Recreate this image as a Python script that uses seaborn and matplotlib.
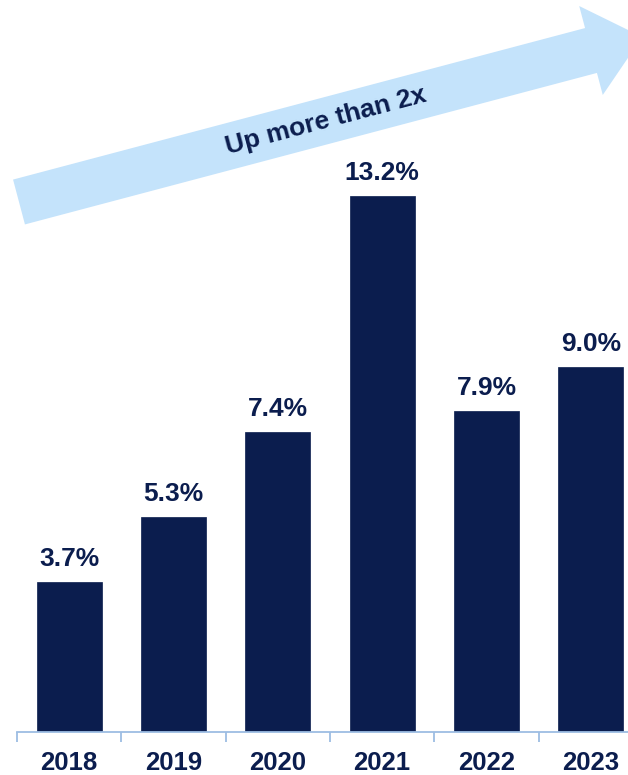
import matplotlib
matplotlib.use("Agg")
import matplotlib.pyplot as plt
from matplotlib.patches import Polygon
from matplotlib import font_manager
import numpy as np
import pandas as pd
import seaborn as sns

years = ["2018", "2019", "2020", "2021", "2022", "2023"]
values = [3.7, 5.3, 7.4, 13.2, 7.9, 9.0]
value_labels = ["3.7%", "5.3%", "7.4%", "13.2%", "7.9%", "9.0%"]
arrow_text = "Up more than 2x"

NAVY = "#0b1d4e"
ARROW = "#c4e3fb"
AXIS = "#9dbde3"

sns.set_theme(style="white")
plt.rcParams["font.family"] = ["Liberation Sans", "DejaVu Sans"]

names = {f.name for f in font_manager.fontManager.ttflist}
if "Liberation Sans Narrow" in names:
    VAL_FAM = ["Liberation Sans Narrow", "Liberation Sans", "DejaVu Sans"]
    VAL_SIZE, ARR_SIZE = 22, 22.5
else:
    VAL_FAM = ["Liberation Sans", "DejaVu Sans"]
    VAL_SIZE, ARR_SIZE = 19, 19

W, H = 628, 775
fig = plt.figure(figsize=(W / 100, H / 100), dpi=100)
ax = fig.add_axes([17 / W, (H - 732) / H, 626 / W, 732 / H])

df = pd.DataFrame({"year": years, "value": values})
sns.barplot(data=df, x="year", y="value", color=NAVY, saturation=1,
            width=0.62, ax=ax, edgecolor=NAVY, linewidth=0.5)

ax.set_xlim(-0.5, len(years) - 0.5)
ax.set_ylim(0, 732 / 40.6)
ax.set_xlabel("")
ax.set_ylabel("")
ax.set_yticks([])
for s in ["top", "right", "left"]:
    ax.spines[s].set_visible(False)
ax.spines["bottom"].set_color(AXIS)
ax.spines["bottom"].set_linewidth(1.3)

ax.set_xticks(range(len(years)))
ax.set_xticklabels(years, fontsize=18.5, fontweight="bold", color=NAVY)
ax.tick_params(axis="x", which="major", length=0, pad=14)
ax.set_xticks(np.arange(-0.5, len(years), 1.0), minor=True)
ax.tick_params(axis="x", which="minor", length=7.5, width=1.3, color=AXIS,
               direction="out", bottom=True)

for i, (v, lab) in enumerate(zip(values, value_labels)):
    ax.annotate(lab, xy=(i, v), xytext=(0, 11.5), textcoords="offset points",
                ha="center", va="baseline", fontsize=VAL_SIZE, fontweight="bold",
                color=NAVY, family=VAL_FAM)

# Trend arrow (annotation shape, in figure pixel space)
tail_c = np.array([19.0, 202.0])
head_c = np.array([591.0, 50.5])
u = head_c - tail_c
L = np.linalg.norm(u)
u = u / L
n = np.array([-u[1], u[0]])
if n[1] < 0:
    n = -n
hw, bw, hl = 23.2, 46.0, 53.0
pts = [tail_c - hw * n, head_c - hw * n, head_c - bw * n, head_c + hl * u,
       head_c + bw * n, head_c + hw * n, tail_c + hw * n]
pts_fig = [(p[0] / W, 1 - p[1] / H) for p in pts]
fig.patches.append(Polygon(pts_fig, closed=True, transform=fig.transFigure,
                           facecolor=ARROW, edgecolor="none", zorder=0))
ang = np.degrees(np.arctan2(-u[1], u[0]))
fig.text(326 / W, 1 - 121 / H, arrow_text, rotation=ang, rotation_mode="anchor",
         ha="center", va="center", fontsize=ARR_SIZE, fontweight="bold",
         color=NAVY, family=VAL_FAM)

fig.savefig("out.png", dpi=100)
